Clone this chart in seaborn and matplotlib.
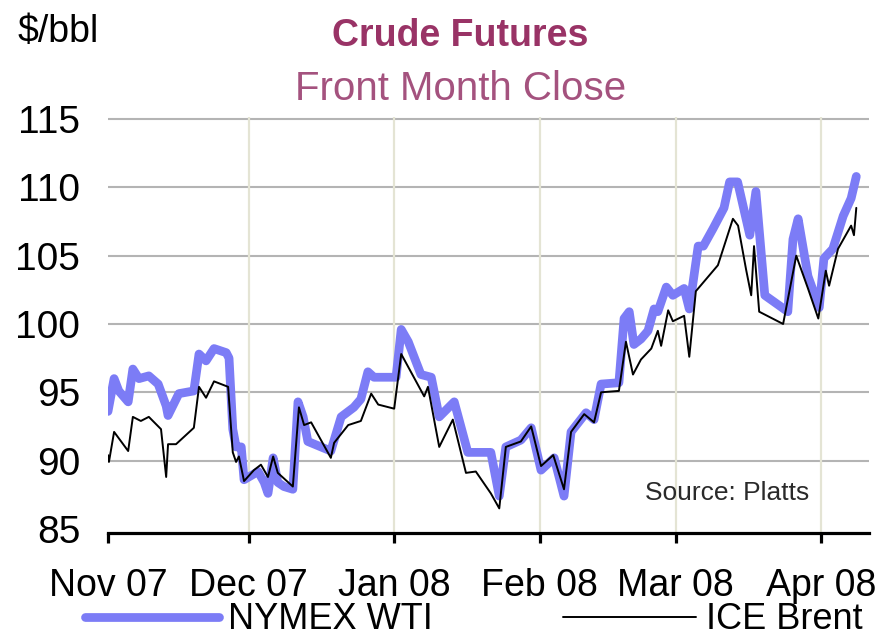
import pandas as pd
import matplotlib
matplotlib.use("Agg")
import matplotlib.pyplot as plt
import seaborn as sns

sns.set_style("white")
plt.rcParams['font.family'] = ['Liberation Sans', 'DejaVu Sans']

# Données (jours depuis le 1er nov. 2007, $/bbl)
start = pd.Timestamp("2007-11-01")

wti_days = [0.0, 1.3, 2.3, 4.3, 5.3, 6.6, 8.7, 10.7, 12.4, 12.8, 15.1, 18.3, 19.4, 20.9,
            22.6, 25.2, 25.8, 26.6, 27.3, 28.4, 29.0, 32.0, 33.3, 34.1, 35.2, 36.2, 37.5,
            39.4, 40.5, 41.6, 42.6, 45.4, 47.5, 49.7, 52.4, 53.9, 55.4, 56.7, 61.4, 62.5,
            64.0, 66.7, 68.9, 70.6, 73.8, 76.7, 81.6, 83.4, 84.8, 88.0, 90.2, 92.3, 95.1,
            97.2, 98.7, 101.9, 103.6, 105.1, 108.9, 110.0, 111.1, 112.1, 113.6, 115.1,
            116.4, 117.2, 119.0, 120.4, 122.8, 123.9, 125.8, 126.9, 129.0, 131.3, 132.5,
            134.2, 136.8, 138.1, 140.0, 144.9, 146.0, 147.1, 149.2, 151.6, 152.6, 154.5,
            156.7, 158.4, 159.5]
wti_close = [93.6, 96.0, 95.1, 94.3, 96.7, 96.0, 96.2, 95.6, 94.0, 93.3, 94.9, 95.1, 97.8, 97.3,
             98.2, 97.9, 97.5, 92.3, 91.0, 91.0, 88.6, 89.2, 88.4, 87.6, 90.2, 88.4, 88.1,
             87.9, 94.3, 93.2, 91.4, 91.0, 90.7, 93.2, 93.9, 94.5, 96.5, 96.1, 96.1, 99.6,
             98.7, 96.3, 96.1, 93.2, 94.3, 90.6, 90.6, 87.4, 91.0, 91.5, 92.4, 89.3, 90.2,
             87.4, 92.1, 93.5, 93.0, 95.6, 95.7, 100.4, 100.9, 98.5, 98.9, 99.5,
             101.1, 100.9, 102.7, 102.1, 102.6, 101.1, 105.7, 105.7, 107.0, 108.5, 110.4,
             110.4, 106.5, 109.7, 102.1, 100.9, 106.2, 107.7, 103.5, 101.2, 104.8, 105.5,
             107.9, 109.2, 110.8]

brent_days = [0.0, 0.2, 1.3, 4.3, 5.3, 7.0, 8.7, 11.3, 12.4, 12.8, 14.5, 18.3, 19.4, 20.9,
              22.6, 25.6, 26.6, 27.3, 27.9, 29.0, 31.1, 32.6, 34.1, 35.2, 36.2, 39.4, 40.7,
              41.8, 43.3, 47.5, 48.2, 51.2, 53.9, 56.1, 57.6, 61.0, 62.5, 67.4, 68.2, 70.6,
              73.5, 76.3, 78.4, 81.6, 83.4, 84.8, 88.0, 90.2, 92.3, 94.9, 97.2, 98.7, 101.5,
              103.6, 105.1, 108.9, 110.4, 111.9, 113.6, 115.8, 117.2, 117.9, 119.4, 120.4,
              122.8, 123.9, 125.3, 130.0, 133.2, 134.3, 136.0, 137.1, 137.7, 138.8, 143.9,
              146.7, 149.2, 151.4, 153.0, 153.7, 155.6, 158.4, 159.0, 159.5]
brent_close = [90.4, 89.9, 92.1, 90.7, 93.2, 92.9, 93.2, 92.3, 88.8, 91.2, 91.2, 92.4, 95.4, 94.6,
               95.8, 95.4, 90.6, 89.9, 90.3, 88.5, 89.3, 89.7, 88.8, 90.3, 89.1, 88.1, 93.9,
               92.6, 92.8, 90.2, 91.3, 92.6, 92.9, 94.9, 94.1, 93.8, 97.8, 94.7, 95.4, 91.0,
               93.0, 89.1, 89.2, 87.6, 86.5, 91.0, 91.4, 92.5, 89.6, 90.4, 87.9, 92.1, 93.4,
               92.8, 95.0, 95.1, 98.7, 96.3, 97.4, 98.2, 99.5, 98.4, 101.0, 100.2,
               100.6, 97.6, 102.4, 104.3, 107.7, 107.2, 104.0, 102.1, 105.7, 100.9, 100.0,
               105.0, 102.6, 100.4, 103.9, 102.8, 105.5, 107.2, 106.5, 108.5]

month_labels = ["Nov 07", "Dec 07", "Jan 08", "Feb 08", "Mar 08", "Apr 08"]
y_ticks = [85, 90, 95, 100, 105, 110, 115]

wti = pd.DataFrame({"date": start + pd.to_timedelta(wti_days, unit="D"), "close": wti_close})
brent = pd.DataFrame({"date": start + pd.to_timedelta(brent_days, unit="D"), "close": brent_close})
month_ticks = pd.date_range("2007-11-01", periods=len(month_labels), freq="MS")

fig = plt.figure(figsize=(8.94, 6.43), dpi=100)
ax = fig.add_axes([0.1208, 0.1711, 0.8512, 0.6469])

# grille
for y in y_ticks[1:]:
    ax.axhline(y, color="#b4b4b4", lw=1.5, zorder=1)
for m in month_ticks[1:]:
    ax.axvline(m, color="#e4e4d4", lw=1.6, zorder=1)

sns.lineplot(data=wti, x="date", y="close", ax=ax, color="#7c7cf6", lw=6.3,
             estimator=None, sort=False, label="NYMEX WTI", zorder=3,
             solid_joinstyle="round")
sns.lineplot(data=brent, x="date", y="close", ax=ax, color="black", lw=1.4,
             estimator=None, sort=False, label="ICE Brent", zorder=4)

ax.set_xlim(start, start + pd.Timedelta(days=162.2))
ax.set_ylim(84.7, 115.15)
ax.set_yticks(y_ticks)
ax.set_xticks(month_ticks)
ax.set_xticklabels(month_labels)
ax.set_xlabel("")
ax.set_ylabel("")

for s in ["left", "right", "top"]:
    ax.spines[s].set_visible(False)
ax.spines["bottom"].set_color("black")
ax.spines["bottom"].set_linewidth(2.3)
ax.spines["bottom"].set_zorder(5)

ax.tick_params(axis="x", bottom=True, length=7, width=2.3, direction="out", pad=18,
               labelsize=27, colors="black")
ax.tick_params(axis="y", left=False, length=0, pad=20, labelsize=28, colors="black")

ax.text(0.922, 0.095, "Source: Platts", transform=ax.transAxes, ha="right", va="center",
        fontsize=19, color="#2a2a2a")

fig.text(0.02, 0.95, "$/bbl", ha="left", va="center", fontsize=27, color="black")
fig.text(0.515, 0.944, "Crude Futures", ha="center", va="center", fontsize=27,
         fontweight="bold", color="#993366")
fig.text(0.515, 0.862, "Front Month Close", ha="center", va="center", fontsize=29,
         color="#a4527e")

handles, labels = ax.get_legend_handles_labels()
ax.get_legend().remove()
fig.legend(handles, labels, loc="center", bbox_to_anchor=(0.53, 0.036), ncol=2,
           frameon=False, fontsize=26, handlelength=3.7, handletextpad=0.25,
           columnspacing=3.6, borderaxespad=0, labelcolor="black")

fig.savefig("out.png", dpi=100)
